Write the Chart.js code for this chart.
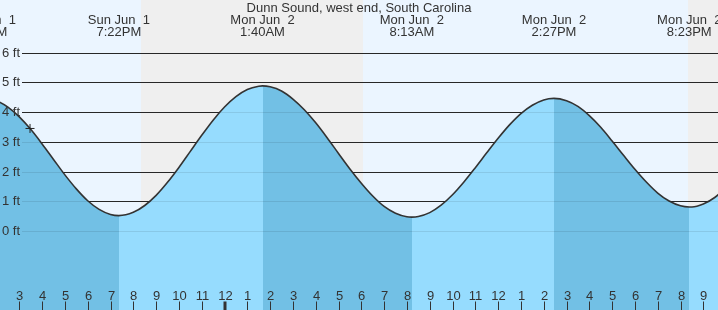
<!DOCTYPE html>
<html>
<head>
<meta charset="utf-8">
<script src="https://cdn.jsdelivr.net/npm/chart.js@4.4.1/dist/chart.umd.min.js"></script>
<style>
  html, body { margin: 0; padding: 0; background: #fff; }
  #wrap { width: 718px; height: 310px; }
</style>
</head>
<body>
<div id="wrap"><canvas id="c" width="718" height="310"></canvas></div>
<script>
// ---- data (hours counted from Sun Jun 1 00:00) ----
const chartTitle = 'Dunn Sound, west end, South Carolina';

const tideHours = [
  13.49, 14.0, 14.5, 15.0, 15.5, 16.0, 16.5, 17.0, 17.5, 18.0, 18.5, 19.0,
  19.367, 20.0, 20.5, 21.0, 21.5, 22.0, 22.5, 23.0, 23.5, 24.0, 24.5, 25.0, 25.5,
  25.667, 26.0, 26.5, 27.0, 27.5, 28.0, 28.5, 29.0, 29.5, 30.0, 30.5, 31.0, 31.5, 32.0,
  32.217, 32.5, 33.0, 33.5, 34.0, 34.5, 35.0, 35.5, 36.0, 36.5, 37.0, 37.5, 38.0,
  38.45, 39.0, 39.5, 40.0, 40.5, 41.0, 41.5, 42.0, 42.5, 43.0, 43.5, 44.0,
  44.383, 44.5, 45.0, 45.5, 46.0
];
const tideFeet = [
  4.45, 4.38, 4.17, 3.84, 3.42, 2.93, 2.41, 1.89, 1.42, 1.02, 0.73, 0.56,
  0.52, 0.63, 0.86, 1.20, 1.64, 2.14, 2.68, 3.22, 3.73, 4.17, 4.52, 4.76, 4.87,
  4.88, 4.85, 4.71, 4.44, 4.08, 3.64, 3.14, 2.61, 2.09, 1.61, 1.18, 0.83, 0.60, 0.48,
  0.47, 0.49, 0.62, 0.87, 1.22, 1.65, 2.13, 2.63, 3.12, 3.57, 3.95, 4.23, 4.41,
  4.46, 4.38, 4.19, 3.88, 3.49, 3.03, 2.55, 2.08, 1.65, 1.28, 1.01, 0.85,
  0.81, 0.81, 0.91, 1.13, 1.46
];

// high / low tide events
const eventHours = [13.49, 19.367, 25.667, 32.217, 38.45, 44.383];
const eventTypes = ['H', 'L', 'H', 'L', 'H', 'L'];
const eventDays  = ['Sun Jun  1', 'Sun Jun  1', 'Mon Jun  2', 'Mon Jun  2', 'Mon Jun  2', 'Mon Jun  2'];
const eventTimes = ['1:29PM', '7:22PM', '1:40AM', '8:13AM', '2:27PM', '8:23PM'];

// daylight periods
const sunriseHours = [6.2, 30.07];
const sunsetHours  = [20.34, 44.33];

// current time marker
const nowHour = 15.47;
const nowFeet = 3.45;

// axis ticks
const feetTicks  = [0, 1, 2, 3, 4, 5, 6];
const feetLabels = ['0 ft', '1 ft', '2 ft', '3 ft', '4 ft', '5 ft', '6 ft'];
const hourTicks  = [15, 16, 17, 18, 19, 20, 21, 22, 23, 24, 25, 26, 27, 28, 29, 30,
                    31, 32, 33, 34, 35, 36, 37, 38, 39, 40, 41, 42, 43, 44, 45];
const hourLabels = ['3', '4', '5', '6', '7', '8', '9', '10', '11', '12', '1', '2', '3', '4', '5', '6',
                    '7', '8', '9', '10', '11', '12', '1', '2', '3', '4', '5', '6', '7', '8', '9'];
const midnightHour = 24;

// ---- styles ----
const FONT = '13px "Liberation Sans", Arial, Helvetica, sans-serif';
const TEXT = '#333333';
const DAY_BG = '#ebf5ff';
const NIGHT_BG = '#efefef';
const WATER_FALL = '#72c0e5';
const WATER_RISE = '#96dcfe';

function colourAfter(type) { return type === 'H' ? WATER_FALL : WATER_RISE; }

// horizontal gradient with hard stops: falling water after a high, rising after a low
function waterFill(context) {
  const chart = context.chart;
  const a = chart.chartArea;
  if (!a) return WATER_RISE;
  const xs = chart.scales.x;
  const w = a.right - a.left;
  let cur = colourAfter(eventTypes[0] === 'H' ? 'L' : 'H');
  const stops = [];
  eventHours.forEach((h, i) => {
    const f = (Math.round(xs.getPixelForValue(h)) - a.left) / w;
    const next = colourAfter(eventTypes[i]);
    if (f <= 0) { cur = next; return; }
    if (f >= 1) return;
    stops.push([f, next]);
  });
  const g = chart.ctx.createLinearGradient(a.left, 0, a.right, 0);
  g.addColorStop(0, cur);
  stops.forEach(([f, c]) => {
    g.addColorStop(f, cur);
    g.addColorStop(f, c);
    cur = c;
  });
  g.addColorStop(1, cur);
  return g;
}

const decor = {
  id: 'decor',
  beforeDatasetsDraw(chart) {
    const {ctx, chartArea: a, scales: {x, y}} = chart;
    ctx.save();
    ctx.fillStyle = NIGHT_BG;
    ctx.fillRect(a.left, a.top, a.right - a.left, a.bottom - a.top);
    ctx.fillStyle = DAY_BG;
    for (let i = 0; i < sunriseHours.length; i++) {
      const x0 = Math.max(a.left, Math.round(x.getPixelForValue(sunriseHours[i])));
      const x1 = Math.min(a.right, Math.round(x.getPixelForValue(sunsetHours[i])));
      if (x1 > x0) ctx.fillRect(x0, a.top, x1 - x0, a.bottom - a.top);
    }
    ctx.strokeStyle = '#2b2b2b';
    ctx.lineWidth = 1;
    feetTicks.forEach(v => {
      const py = Math.round(y.getPixelForValue(v)) + 0.5;
      ctx.beginPath();
      ctx.moveTo(a.left + 22, py);
      ctx.lineTo(a.right, py);
      ctx.stroke();
    });
    ctx.restore();
  },
  afterDatasetsDraw(chart) {
    const {ctx, chartArea: a, scales: {x, y}} = chart;
    ctx.save();
    ctx.strokeStyle = 'rgba(0,0,0,0.09)';
    ctx.lineWidth = 1;
    feetTicks.forEach(v => {
      const py = Math.round(y.getPixelForValue(v)) + 0.5;
      ctx.beginPath();
      ctx.moveTo(a.left + 22, py);
      ctx.lineTo(a.right, py);
      ctx.stroke();
    });
    ctx.font = FONT;
    ctx.fillStyle = TEXT;
    ctx.textAlign = 'left';
    ctx.textBaseline = 'middle';
    feetTicks.forEach((v, i) => {
      ctx.fillText(feetLabels[i], a.left + 2, y.getPixelForValue(v) + 0.5);
    });
    ctx.strokeStyle = TEXT;
    ctx.textAlign = 'center';
    ctx.textBaseline = 'alphabetic';
    hourTicks.forEach((h, i) => {
      const px = Math.round(x.getPixelForValue(h));
      const thick = h === midnightHour;
      ctx.lineWidth = thick ? 3 : 1;
      ctx.beginPath();
      ctx.moveTo(px + (thick ? 0 : 0.5), a.bottom - 8.5);
      ctx.lineTo(px + (thick ? 0 : 0.5), a.bottom);
      ctx.stroke();
      ctx.fillText(hourLabels[i], px + 0.5, a.bottom - 10);
    });
    ctx.fillText(chartTitle, (a.left + a.right) / 2, 12);
    eventHours.forEach((h, i) => {
      const px = x.getPixelForValue(h);
      ctx.fillText(eventDays[i], px, 24);
      ctx.fillText(eventTimes[i], px, 36);
    });
    ctx.restore();
  }
};

const tidePoints = tideHours.map((h, i) => ({x: h, y: tideFeet[i]}));

new Chart(document.getElementById('c'), {
  type: 'line',
  data: {
    datasets: [
      {
        data: [{x: nowHour, y: nowFeet}],
        showLine: false,
        pointStyle: 'cross',
        pointRadius: 4.5,
        pointHoverRadius: 4.5,
        pointBorderColor: '#222',
        pointBorderWidth: 1,
        order: 0
      },
      {
        data: tidePoints,
        borderColor: '#333333',
        borderWidth: 1.6,
        pointRadius: 0,
        pointHoverRadius: 0,
        cubicInterpolationMode: 'monotone',
        fill: 'start',
        backgroundColor: waterFill,
        order: 1
      }
    ]
  },
  options: {
    responsive: false,
    animation: false,
    events: [],
    layout: {padding: 0, autoPadding: false},
    plugins: {legend: {display: false}, tooltip: {enabled: false}},
    scales: {
      x: {type: 'linear', display: false, min: 14.153, max: 45.644},
      y: {display: false, min: -2.652, max: 7.768}
    }
  },
  plugins: [decor]
});
</script>
</body>
</html>
